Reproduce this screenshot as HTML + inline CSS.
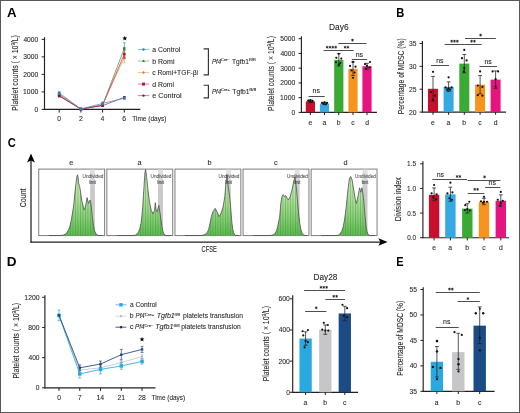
<!DOCTYPE html>
<html><head><meta charset="utf-8"><style>
html,body{margin:0;padding:0;background:#fff;}
#fig{position:relative;width:520px;height:413px;overflow:hidden;background:#fff;}
#fig svg{position:absolute;left:0;top:0;will-change:transform;}
text{font-family:'Liberation Sans', sans-serif;}
</style></head><body><div id="fig">
<svg width="520" height="413" viewBox="0 0 520 413" font-family="'Liberation Sans', sans-serif">
<rect x="0" y="0" width="520" height="413" fill="#fff"/>
<text x="6.97" y="17.10" fill="#000" stroke="#000" stroke-width="0" textLength="9.58" lengthAdjust="spacingAndGlyphs"><tspan font-size="13.0" font-weight="bold">A</tspan></text>
<text x="396.25" y="16.90" fill="#000" stroke="#000" stroke-width="0" textLength="8.05" lengthAdjust="spacingAndGlyphs"><tspan font-size="12.8" font-weight="bold">B</tspan></text>
<text x="7.64" y="147.00" fill="#000" stroke="#000" stroke-width="0" textLength="8.06" lengthAdjust="spacingAndGlyphs"><tspan font-size="12.6" font-weight="bold">C</tspan></text>
<text x="6.89" y="266.20" fill="#000" stroke="#000" stroke-width="0" textLength="9.77" lengthAdjust="spacingAndGlyphs"><tspan font-size="12.8" font-weight="bold">D</tspan></text>
<text x="396.26" y="266.20" fill="#000" stroke="#000" stroke-width="0" textLength="7.37" lengthAdjust="spacingAndGlyphs"><tspan font-size="12.8" font-weight="bold">E</tspan></text>
<line x1="44.50" y1="37.30" x2="44.50" y2="110.00" stroke="#231f20" stroke-width="1.15"/>
<line x1="44.00" y1="109.40" x2="140.30" y2="109.40" stroke="#231f20" stroke-width="1.15"/>
<line x1="41.70" y1="39.40" x2="44.50" y2="39.40" stroke="#231f20" stroke-width="1.0"/>
<text x="23.40" y="41.88" fill="#231f20" stroke="#231f20" stroke-width="0.08" textLength="14.86" lengthAdjust="spacingAndGlyphs"><tspan font-size="7.0">4000</tspan></text>
<line x1="41.70" y1="56.90" x2="44.50" y2="56.90" stroke="#231f20" stroke-width="1.0"/>
<text x="23.29" y="59.38" fill="#231f20" stroke="#231f20" stroke-width="0.08" textLength="14.97" lengthAdjust="spacingAndGlyphs"><tspan font-size="7.0">3000</tspan></text>
<line x1="41.70" y1="74.40" x2="44.50" y2="74.40" stroke="#231f20" stroke-width="1.0"/>
<text x="23.21" y="76.88" fill="#231f20" stroke="#231f20" stroke-width="0.08" textLength="15.05" lengthAdjust="spacingAndGlyphs"><tspan font-size="7.0">2000</tspan></text>
<line x1="41.70" y1="91.90" x2="44.50" y2="91.90" stroke="#231f20" stroke-width="1.0"/>
<text x="23.03" y="94.38" fill="#231f20" stroke="#231f20" stroke-width="0.08" textLength="15.24" lengthAdjust="spacingAndGlyphs"><tspan font-size="7.0">1000</tspan></text>
<line x1="41.70" y1="109.40" x2="44.50" y2="109.40" stroke="#231f20" stroke-width="1.0"/>
<text x="34.54" y="111.88" fill="#231f20" stroke="#231f20" stroke-width="0.08" textLength="3.72" lengthAdjust="spacingAndGlyphs"><tspan font-size="7.0">0</tspan></text>
<line x1="59.20" y1="109.40" x2="59.20" y2="112.50" stroke="#231f20" stroke-width="1.0"/>
<text x="57.34" y="121.38" fill="#231f20" stroke="#231f20" stroke-width="0.08" textLength="3.72" lengthAdjust="spacingAndGlyphs"><tspan font-size="7.0">0</tspan></text>
<line x1="80.90" y1="109.40" x2="80.90" y2="112.50" stroke="#231f20" stroke-width="1.0"/>
<text x="78.95" y="121.38" fill="#231f20" stroke="#231f20" stroke-width="0.08" textLength="3.91" lengthAdjust="spacingAndGlyphs"><tspan font-size="7.0">2</tspan></text>
<line x1="102.60" y1="109.40" x2="102.60" y2="112.50" stroke="#231f20" stroke-width="1.0"/>
<text x="100.85" y="121.38" fill="#231f20" stroke="#231f20" stroke-width="0.08" textLength="3.53" lengthAdjust="spacingAndGlyphs"><tspan font-size="7.0">4</tspan></text>
<line x1="124.30" y1="109.40" x2="124.30" y2="112.50" stroke="#231f20" stroke-width="1.0"/>
<text x="122.35" y="121.38" fill="#231f20" stroke="#231f20" stroke-width="0.08" textLength="3.86" lengthAdjust="spacingAndGlyphs"><tspan font-size="7.0">6</tspan></text>
<text x="132.25" y="121.30" fill="#231f20" stroke="#231f20" stroke-width="0.08" textLength="34.15" lengthAdjust="spacingAndGlyphs"><tspan font-size="7.8">Time (days)</tspan></text>
<text x="-110.67" y="18.00" transform="rotate(-90)" fill="#231f20" stroke="#231f20" stroke-width="0.08" textLength="75.49" lengthAdjust="spacingAndGlyphs"><tspan font-size="8.4">Platelet counts ( × 10</tspan><tspan font-size="5.208" dy="-3.19">9</tspan><tspan font-size="8.4" dy="3.19">/L)</tspan></text>
<polyline points="59.20,94.18 80.90,109.14 102.60,105.03 124.30,48.50" fill="none" stroke="#3c9a3c" stroke-width="0.75"/>
<rect x="57.90" y="92.88" width="2.60" height="2.60" fill="#2e8b2e"/>
<rect x="79.60" y="107.84" width="2.60" height="2.60" fill="#2e8b2e"/>
<rect x="101.30" y="103.73" width="2.60" height="2.60" fill="#2e8b2e"/>
<line x1="124.30" y1="42.72" x2="124.30" y2="54.27" stroke="#3c9a3c" stroke-width="0.7"/>
<line x1="123.00" y1="42.72" x2="125.60" y2="42.72" stroke="#3c9a3c" stroke-width="0.6"/>
<line x1="123.00" y1="54.27" x2="125.60" y2="54.27" stroke="#3c9a3c" stroke-width="0.6"/>
<rect x="123.00" y="47.20" width="2.60" height="2.60" fill="#2e8b2e"/>
<polyline points="59.20,94.88 80.90,109.14 102.60,104.68 124.30,57.60" fill="none" stroke="#e0a060" stroke-width="0.75"/>
<rect x="57.90" y="93.58" width="2.60" height="2.60" fill="#d07a20"/>
<rect x="79.60" y="107.84" width="2.60" height="2.60" fill="#d07a20"/>
<rect x="101.30" y="103.38" width="2.60" height="2.60" fill="#d07a20"/>
<line x1="124.30" y1="52.35" x2="124.30" y2="62.85" stroke="#e0a060" stroke-width="0.7"/>
<line x1="123.00" y1="52.35" x2="125.60" y2="52.35" stroke="#e0a060" stroke-width="0.6"/>
<line x1="123.00" y1="62.85" x2="125.60" y2="62.85" stroke="#e0a060" stroke-width="0.6"/>
<rect x="123.00" y="56.30" width="2.60" height="2.60" fill="#d07a20"/>
<polyline points="59.20,95.58 80.90,109.14 102.60,105.20 124.30,54.27" fill="none" stroke="#d0306a" stroke-width="0.75"/>
<rect x="57.90" y="94.28" width="2.60" height="2.60" fill="#c0105f"/>
<rect x="79.60" y="107.84" width="2.60" height="2.60" fill="#c0105f"/>
<rect x="101.30" y="103.90" width="2.60" height="2.60" fill="#c0105f"/>
<line x1="124.30" y1="50.42" x2="124.30" y2="58.12" stroke="#d0306a" stroke-width="0.7"/>
<line x1="123.00" y1="50.42" x2="125.60" y2="50.42" stroke="#d0306a" stroke-width="0.6"/>
<line x1="123.00" y1="58.12" x2="125.60" y2="58.12" stroke="#d0306a" stroke-width="0.6"/>
<rect x="123.00" y="52.98" width="2.60" height="2.60" fill="#c0105f"/>
<polyline points="59.20,96.10 80.90,108.96 102.60,105.64 124.30,97.33" fill="none" stroke="#8c3a6a" stroke-width="0.75"/>
<rect x="57.90" y="94.80" width="2.60" height="2.60" fill="#8b1030"/>
<rect x="79.60" y="107.66" width="2.60" height="2.60" fill="#8b1030"/>
<rect x="101.30" y="104.34" width="2.60" height="2.60" fill="#8b1030"/>
<rect x="123.00" y="96.03" width="2.60" height="2.60" fill="#8b1030"/>
<polyline points="59.20,92.95 80.90,108.96 102.60,103.45 124.30,98.20" fill="none" stroke="#5a8ab8" stroke-width="0.75"/>
<line x1="59.20" y1="91.73" x2="59.20" y2="94.18" stroke="#5a8ab8" stroke-width="0.7"/>
<line x1="57.90" y1="91.73" x2="60.50" y2="91.73" stroke="#5a8ab8" stroke-width="0.6"/>
<line x1="57.90" y1="94.18" x2="60.50" y2="94.18" stroke="#5a8ab8" stroke-width="0.6"/>
<rect x="57.90" y="91.65" width="2.60" height="2.60" fill="#2a7fb5"/>
<rect x="79.60" y="107.66" width="2.60" height="2.60" fill="#2a7fb5"/>
<line x1="102.60" y1="101.88" x2="102.60" y2="105.03" stroke="#5a8ab8" stroke-width="0.7"/>
<line x1="101.30" y1="101.88" x2="103.90" y2="101.88" stroke="#5a8ab8" stroke-width="0.6"/>
<line x1="101.30" y1="105.03" x2="103.90" y2="105.03" stroke="#5a8ab8" stroke-width="0.6"/>
<rect x="101.30" y="102.15" width="2.60" height="2.60" fill="#2a7fb5"/>
<line x1="124.30" y1="97.15" x2="124.30" y2="99.25" stroke="#5a8ab8" stroke-width="0.7"/>
<line x1="123.00" y1="97.15" x2="125.60" y2="97.15" stroke="#5a8ab8" stroke-width="0.6"/>
<line x1="123.00" y1="99.25" x2="125.60" y2="99.25" stroke="#5a8ab8" stroke-width="0.6"/>
<rect x="123.00" y="96.90" width="2.60" height="2.60" fill="#2a7fb5"/>
<polygon points="124.80,35.70 125.44,37.42 127.27,37.50 125.84,38.64 126.33,40.40 124.80,39.39 123.27,40.40 123.76,38.64 122.33,37.50 124.16,37.42" fill="#000"/>
<line x1="137.80" y1="49.50" x2="149.20" y2="49.50" stroke="#6fb8e2" stroke-width="0.8"/>
<circle cx="143.50" cy="49.50" r="1.2" fill="#2a7fb5"/>
<text x="152.31" y="52.10" fill="#231f20" stroke="#231f20" stroke-width="0.08" textLength="27.95" lengthAdjust="spacingAndGlyphs"><tspan font-size="7.2">a Control</tspan></text>
<line x1="137.80" y1="61.00" x2="149.20" y2="61.00" stroke="#7cc47a" stroke-width="0.8"/>
<polygon points="143.50,59.40 142.00,62.10 145.00,62.10" fill="#2e7d32"/>
<text x="152.15" y="63.60" fill="#231f20" stroke="#231f20" stroke-width="0.08" textLength="22.33" lengthAdjust="spacingAndGlyphs"><tspan font-size="7.2">b Romi</tspan></text>
<line x1="137.80" y1="72.50" x2="149.20" y2="72.50" stroke="#f6b67a" stroke-width="0.8"/>
<polygon points="143.50,70.90 145.10,72.50 143.50,74.10 141.90,72.50" fill="#c8864a"/>
<text x="152.32" y="75.10" fill="#231f20" stroke="#231f20" stroke-width="0.08" textLength="45.74" lengthAdjust="spacingAndGlyphs"><tspan font-size="7.2">c Romi+TGF-βi</tspan></text>
<line x1="137.80" y1="84.10" x2="149.20" y2="84.10" stroke="#ea5aa0" stroke-width="0.8"/>
<rect x="142.00" y="82.60" width="3.00" height="3.00" fill="#c0105f"/>
<text x="152.31" y="86.70" fill="#231f20" stroke="#231f20" stroke-width="0.08" textLength="21.75" lengthAdjust="spacingAndGlyphs"><tspan font-size="7.2">d Romi</tspan></text>
<line x1="137.80" y1="95.60" x2="149.20" y2="95.60" stroke="#d65a72" stroke-width="0.8"/>
<circle cx="143.50" cy="95.60" r="1.2" fill="#8b1030"/>
<text x="152.29" y="98.20" fill="#231f20" stroke="#231f20" stroke-width="0.08" textLength="29.39" lengthAdjust="spacingAndGlyphs"><tspan font-size="7.2">e Control</tspan></text>
<polyline points="203.60,48.90 208.40,48.90 208.40,74.80 203.60,74.80" fill="none" stroke="#333" stroke-width="1.15"/>
<polyline points="203.60,85.20 208.40,85.20 208.40,97.90 203.60,97.90" fill="none" stroke="#333" stroke-width="1.15"/>
<text x="211.91" y="63.60" fill="#231f20" stroke="#231f20" stroke-width="0.08" textLength="9.32" lengthAdjust="spacingAndGlyphs"><tspan font-size="7.2" font-style="italic">Pf4</tspan></text>
<text x="221.10" y="61.10" fill="#231f20" stroke="#231f20" stroke-width="0.08" textLength="8.69" lengthAdjust="spacingAndGlyphs"><tspan font-size="3.4">Cre−</tspan></text>
<text x="231.95" y="63.60" fill="#231f20" stroke="#231f20" stroke-width="0.08" textLength="16.97" lengthAdjust="spacingAndGlyphs"><tspan font-size="7.2">Tgfb1</tspan></text>
<text x="249.13" y="61.10" fill="#231f20" stroke="#231f20" stroke-width="0.08" textLength="6.51" lengthAdjust="spacingAndGlyphs"><tspan font-size="3.4">fl/fl</tspan></text>
<text x="211.91" y="93.60" fill="#231f20" stroke="#231f20" stroke-width="0.08" textLength="9.22" lengthAdjust="spacingAndGlyphs"><tspan font-size="7.2" font-style="italic">Pf4</tspan></text>
<text x="221.10" y="91.10" fill="#231f20" stroke="#231f20" stroke-width="0.08" textLength="8.70" lengthAdjust="spacingAndGlyphs"><tspan font-size="3.4">Cre+</tspan></text>
<text x="232.25" y="93.60" fill="#231f20" stroke="#231f20" stroke-width="0.08" textLength="17.28" lengthAdjust="spacingAndGlyphs"><tspan font-size="7.2">Tgfb1</tspan></text>
<text x="249.32" y="91.10" fill="#231f20" stroke="#231f20" stroke-width="0.08" textLength="6.94" lengthAdjust="spacingAndGlyphs"><tspan font-size="3.4">fl/fl</tspan></text>
<text x="329.01" y="30.30" fill="#231f20" stroke="#231f20" stroke-width="0.08" textLength="19.56" lengthAdjust="spacingAndGlyphs"><tspan font-size="8.8">Day6</tspan></text>
<line x1="301.40" y1="36.20" x2="301.40" y2="112.90" stroke="#231f20" stroke-width="1.15"/>
<line x1="300.90" y1="112.40" x2="376.90" y2="112.40" stroke="#231f20" stroke-width="1.15"/>
<line x1="298.60" y1="38.70" x2="301.40" y2="38.70" stroke="#231f20" stroke-width="1.0"/>
<text x="280.28" y="41.18" fill="#231f20" stroke="#231f20" stroke-width="0.08" textLength="14.98" lengthAdjust="spacingAndGlyphs"><tspan font-size="7.0">5000</tspan></text>
<line x1="298.60" y1="53.44" x2="301.40" y2="53.44" stroke="#231f20" stroke-width="1.0"/>
<text x="280.40" y="55.92" fill="#231f20" stroke="#231f20" stroke-width="0.08" textLength="14.86" lengthAdjust="spacingAndGlyphs"><tspan font-size="7.0">4000</tspan></text>
<line x1="298.60" y1="68.18" x2="301.40" y2="68.18" stroke="#231f20" stroke-width="1.0"/>
<text x="280.29" y="70.66" fill="#231f20" stroke="#231f20" stroke-width="0.08" textLength="14.97" lengthAdjust="spacingAndGlyphs"><tspan font-size="7.0">3000</tspan></text>
<line x1="298.60" y1="82.92" x2="301.40" y2="82.92" stroke="#231f20" stroke-width="1.0"/>
<text x="280.21" y="85.40" fill="#231f20" stroke="#231f20" stroke-width="0.08" textLength="15.05" lengthAdjust="spacingAndGlyphs"><tspan font-size="7.0">2000</tspan></text>
<line x1="298.60" y1="97.66" x2="301.40" y2="97.66" stroke="#231f20" stroke-width="1.0"/>
<text x="280.03" y="100.14" fill="#231f20" stroke="#231f20" stroke-width="0.08" textLength="15.24" lengthAdjust="spacingAndGlyphs"><tspan font-size="7.0">1000</tspan></text>
<line x1="298.60" y1="112.40" x2="301.40" y2="112.40" stroke="#231f20" stroke-width="1.0"/>
<text x="291.54" y="114.88" fill="#231f20" stroke="#231f20" stroke-width="0.08" textLength="3.72" lengthAdjust="spacingAndGlyphs"><tspan font-size="7.0">0</tspan></text>
<rect x="305.80" y="101.34" width="9.20" height="11.06" fill="#c8102e"/>
<line x1="310.40" y1="112.40" x2="310.40" y2="115.10" stroke="#231f20" stroke-width="1.0"/>
<line x1="310.40" y1="100.17" x2="310.40" y2="102.52" stroke="#231f20" stroke-width="0.75"/>
<line x1="308.50" y1="100.17" x2="312.30" y2="100.17" stroke="#231f20" stroke-width="0.75"/>
<line x1="308.50" y1="102.52" x2="312.30" y2="102.52" stroke="#231f20" stroke-width="0.75"/>
<circle cx="308.20" cy="100.61" r="1.1" fill="#111"/>
<circle cx="310.40" cy="100.17" r="1.1" fill="#111"/>
<circle cx="312.60" cy="100.76" r="1.1" fill="#111"/>
<circle cx="309.40" cy="101.49" r="1.1" fill="#111"/>
<circle cx="311.90" cy="102.08" r="1.1" fill="#111"/>
<text x="308.52" y="124.70" fill="#231f20" stroke="#231f20" stroke-width="0.08" textLength="3.78" lengthAdjust="spacingAndGlyphs"><tspan font-size="6.8">e</tspan></text>
<rect x="319.90" y="103.56" width="9.20" height="8.84" fill="#35a9e1"/>
<line x1="324.50" y1="112.40" x2="324.50" y2="115.10" stroke="#231f20" stroke-width="1.0"/>
<line x1="324.50" y1="102.23" x2="324.50" y2="104.74" stroke="#231f20" stroke-width="0.75"/>
<line x1="322.60" y1="102.23" x2="326.40" y2="102.23" stroke="#231f20" stroke-width="0.75"/>
<line x1="322.60" y1="104.74" x2="326.40" y2="104.74" stroke="#231f20" stroke-width="0.75"/>
<circle cx="322.00" cy="102.82" r="1.1" fill="#111"/>
<circle cx="324.50" cy="102.23" r="1.1" fill="#111"/>
<circle cx="327.00" cy="102.97" r="1.1" fill="#111"/>
<circle cx="323.50" cy="103.85" r="1.1" fill="#111"/>
<circle cx="326.00" cy="104.15" r="1.1" fill="#111"/>
<text x="322.46" y="124.70" fill="#231f20" stroke="#231f20" stroke-width="0.08" textLength="3.78" lengthAdjust="spacingAndGlyphs"><tspan font-size="6.8">a</tspan></text>
<rect x="334.20" y="59.93" width="9.20" height="52.47" fill="#3aaa35"/>
<line x1="338.80" y1="112.40" x2="338.80" y2="115.10" stroke="#231f20" stroke-width="1.0"/>
<line x1="338.80" y1="53.59" x2="338.80" y2="65.97" stroke="#231f20" stroke-width="0.75"/>
<line x1="336.90" y1="53.59" x2="340.70" y2="53.59" stroke="#231f20" stroke-width="0.75"/>
<line x1="336.90" y1="65.97" x2="340.70" y2="65.97" stroke="#231f20" stroke-width="0.75"/>
<circle cx="338.80" cy="53.73" r="1.1" fill="#111"/>
<circle cx="336.30" cy="57.86" r="1.1" fill="#111"/>
<circle cx="341.30" cy="58.60" r="1.1" fill="#111"/>
<circle cx="336.00" cy="62.28" r="1.1" fill="#111"/>
<circle cx="340.30" cy="63.02" r="1.1" fill="#111"/>
<circle cx="338.80" cy="64.50" r="1.1" fill="#111"/>
<text x="336.83" y="124.70" fill="#231f20" stroke="#231f20" stroke-width="0.08" textLength="3.78" lengthAdjust="spacingAndGlyphs"><tspan font-size="6.8">b</tspan></text>
<rect x="348.40" y="68.77" width="9.20" height="43.63" fill="#f7941d"/>
<line x1="353.00" y1="112.40" x2="353.00" y2="115.10" stroke="#231f20" stroke-width="1.0"/>
<line x1="353.00" y1="61.99" x2="353.00" y2="75.55" stroke="#231f20" stroke-width="0.75"/>
<line x1="351.10" y1="61.99" x2="354.90" y2="61.99" stroke="#231f20" stroke-width="0.75"/>
<line x1="351.10" y1="75.55" x2="354.90" y2="75.55" stroke="#231f20" stroke-width="0.75"/>
<circle cx="353.00" cy="61.84" r="1.1" fill="#111"/>
<circle cx="350.00" cy="65.97" r="1.1" fill="#111"/>
<circle cx="355.50" cy="66.71" r="1.1" fill="#111"/>
<circle cx="351.50" cy="70.39" r="1.1" fill="#111"/>
<circle cx="354.50" cy="72.60" r="1.1" fill="#111"/>
<circle cx="353.00" cy="77.76" r="1.1" fill="#111"/>
<text x="351.25" y="124.70" fill="#231f20" stroke="#231f20" stroke-width="0.08" textLength="3.40" lengthAdjust="spacingAndGlyphs"><tspan font-size="6.8">c</tspan></text>
<rect x="362.40" y="66.26" width="9.20" height="46.14" fill="#e5147f"/>
<line x1="367.00" y1="112.40" x2="367.00" y2="115.10" stroke="#231f20" stroke-width="1.0"/>
<line x1="367.00" y1="63.32" x2="367.00" y2="69.21" stroke="#231f20" stroke-width="0.75"/>
<line x1="365.10" y1="63.32" x2="368.90" y2="63.32" stroke="#231f20" stroke-width="0.75"/>
<line x1="365.10" y1="69.21" x2="368.90" y2="69.21" stroke="#231f20" stroke-width="0.75"/>
<circle cx="370.00" cy="61.99" r="1.1" fill="#111"/>
<circle cx="365.00" cy="64.05" r="1.1" fill="#111"/>
<circle cx="367.00" cy="65.97" r="1.1" fill="#111"/>
<circle cx="369.50" cy="67.44" r="1.1" fill="#111"/>
<circle cx="366.00" cy="68.92" r="1.1" fill="#111"/>
<text x="365.19" y="124.70" fill="#231f20" stroke="#231f20" stroke-width="0.08" textLength="3.78" lengthAdjust="spacingAndGlyphs"><tspan font-size="6.8">d</tspan></text>
<text x="-110.96" y="274.30" transform="rotate(-90)" fill="#231f20" stroke="#231f20" stroke-width="0.08" textLength="74.89" lengthAdjust="spacingAndGlyphs"><tspan font-size="8.4">Platelet counts ( × 10</tspan><tspan font-size="5.208" dy="-3.19">9</tspan><tspan font-size="8.4" dy="3.19">/L)</tspan></text>
<line x1="308.60" y1="96.50" x2="324.70" y2="96.50" stroke="#231f20" stroke-width="0.8"/>
<text x="312.64" y="93.00" fill="#231f20" stroke="#231f20" stroke-width="0.08" textLength="7.31" lengthAdjust="spacingAndGlyphs"><tspan font-size="6.4">ns</tspan></text>
<line x1="323.60" y1="50.50" x2="353.70" y2="50.50" stroke="#231f20" stroke-width="0.8"/>
<path d="M327.12,46.20L327.12,48.20M326.26,46.70L327.99,47.70M327.99,46.70L326.26,47.70" stroke="#1a1a1a" stroke-width="0.75" stroke-linecap="round"/>
<path d="M329.98,46.20L329.98,48.20M329.11,46.70L330.84,47.70M330.84,46.70L329.11,47.70" stroke="#1a1a1a" stroke-width="0.75" stroke-linecap="round"/>
<path d="M332.82,46.20L332.82,48.20M331.96,46.70L333.69,47.70M333.69,46.70L331.96,47.70" stroke="#1a1a1a" stroke-width="0.75" stroke-linecap="round"/>
<path d="M335.68,46.20L335.68,48.20M334.81,46.70L336.54,47.70M336.54,46.70L334.81,47.70" stroke="#1a1a1a" stroke-width="0.75" stroke-linecap="round"/>
<path d="M345.07,46.20L345.07,48.20M344.21,46.70L345.94,47.70M345.94,46.70L344.21,47.70" stroke="#1a1a1a" stroke-width="0.75" stroke-linecap="round"/>
<path d="M347.93,46.20L347.93,48.20M347.06,46.70L348.79,47.70M348.79,46.70L347.06,47.70" stroke="#1a1a1a" stroke-width="0.75" stroke-linecap="round"/>
<line x1="338.40" y1="43.50" x2="366.60" y2="43.50" stroke="#231f20" stroke-width="0.8"/>
<path d="M352.50,39.10L352.50,41.10M351.63,39.60L353.37,40.60M353.37,39.60L351.63,40.60" stroke="#1a1a1a" stroke-width="0.75" stroke-linecap="round"/>
<line x1="351.80" y1="59.50" x2="367.20" y2="59.50" stroke="#231f20" stroke-width="0.8"/>
<text x="355.74" y="56.90" fill="#231f20" stroke="#231f20" stroke-width="0.08" textLength="7.31" lengthAdjust="spacingAndGlyphs"><tspan font-size="6.4">ns</tspan></text>
<line x1="422.40" y1="41.00" x2="422.40" y2="112.60" stroke="#231f20" stroke-width="1.15"/>
<line x1="421.90" y1="112.10" x2="506.00" y2="112.10" stroke="#231f20" stroke-width="1.15"/>
<line x1="419.60" y1="43.50" x2="422.40" y2="43.50" stroke="#231f20" stroke-width="1.0"/>
<text x="409.09" y="45.98" fill="#231f20" stroke="#231f20" stroke-width="0.08" textLength="7.49" lengthAdjust="spacingAndGlyphs"><tspan font-size="7.0">35</tspan></text>
<line x1="419.60" y1="66.37" x2="422.40" y2="66.37" stroke="#231f20" stroke-width="1.0"/>
<text x="409.09" y="68.85" fill="#231f20" stroke="#231f20" stroke-width="0.08" textLength="7.47" lengthAdjust="spacingAndGlyphs"><tspan font-size="7.0">30</tspan></text>
<line x1="419.60" y1="89.23" x2="422.40" y2="89.23" stroke="#231f20" stroke-width="1.0"/>
<text x="409.01" y="91.71" fill="#231f20" stroke="#231f20" stroke-width="0.08" textLength="7.58" lengthAdjust="spacingAndGlyphs"><tspan font-size="7.0">25</tspan></text>
<line x1="419.60" y1="112.10" x2="422.40" y2="112.10" stroke="#231f20" stroke-width="1.0"/>
<text x="409.01" y="114.58" fill="#231f20" stroke="#231f20" stroke-width="0.08" textLength="7.56" lengthAdjust="spacingAndGlyphs"><tspan font-size="7.0">20</tspan></text>
<rect x="428.00" y="88.78" width="10.00" height="23.32" fill="#c8102e"/>
<line x1="433.00" y1="112.10" x2="433.00" y2="114.80" stroke="#231f20" stroke-width="1.0"/>
<line x1="433.00" y1="76.43" x2="433.00" y2="101.12" stroke="#231f20" stroke-width="0.75"/>
<line x1="431.10" y1="76.43" x2="434.90" y2="76.43" stroke="#231f20" stroke-width="0.75"/>
<line x1="431.10" y1="101.12" x2="434.90" y2="101.12" stroke="#231f20" stroke-width="0.75"/>
<circle cx="433.00" cy="71.86" r="1.1" fill="#111"/>
<circle cx="431.00" cy="91.98" r="1.1" fill="#111"/>
<circle cx="435.00" cy="95.64" r="1.1" fill="#111"/>
<circle cx="433.00" cy="99.75" r="1.1" fill="#111"/>
<text x="431.12" y="124.90" fill="#231f20" stroke="#231f20" stroke-width="0.08" textLength="3.78" lengthAdjust="spacingAndGlyphs"><tspan font-size="6.8">e</tspan></text>
<rect x="443.60" y="86.95" width="10.00" height="25.15" fill="#35a9e1"/>
<line x1="448.60" y1="112.10" x2="448.60" y2="114.80" stroke="#231f20" stroke-width="1.0"/>
<line x1="448.60" y1="81.92" x2="448.60" y2="91.52" stroke="#231f20" stroke-width="0.75"/>
<line x1="446.70" y1="81.92" x2="450.50" y2="81.92" stroke="#231f20" stroke-width="0.75"/>
<line x1="446.70" y1="91.52" x2="450.50" y2="91.52" stroke="#231f20" stroke-width="0.75"/>
<circle cx="448.60" cy="77.35" r="1.1" fill="#111"/>
<circle cx="445.60" cy="87.41" r="1.1" fill="#111"/>
<circle cx="448.60" cy="88.32" r="1.1" fill="#111"/>
<circle cx="451.60" cy="87.41" r="1.1" fill="#111"/>
<circle cx="447.10" cy="89.69" r="1.1" fill="#111"/>
<circle cx="450.10" cy="89.69" r="1.1" fill="#111"/>
<text x="446.56" y="124.90" fill="#231f20" stroke="#231f20" stroke-width="0.08" textLength="3.78" lengthAdjust="spacingAndGlyphs"><tspan font-size="6.8">a</tspan></text>
<rect x="459.30" y="63.63" width="10.00" height="48.47" fill="#3aaa35"/>
<line x1="464.30" y1="112.10" x2="464.30" y2="114.80" stroke="#231f20" stroke-width="1.0"/>
<line x1="464.30" y1="54.48" x2="464.30" y2="72.77" stroke="#231f20" stroke-width="0.75"/>
<line x1="462.40" y1="54.48" x2="466.20" y2="54.48" stroke="#231f20" stroke-width="0.75"/>
<line x1="462.40" y1="72.77" x2="466.20" y2="72.77" stroke="#231f20" stroke-width="0.75"/>
<circle cx="464.30" cy="49.91" r="1.1" fill="#111"/>
<circle cx="462.00" cy="58.14" r="1.1" fill="#111"/>
<circle cx="466.60" cy="60.43" r="1.1" fill="#111"/>
<circle cx="464.30" cy="68.20" r="1.1" fill="#111"/>
<circle cx="463.80" cy="71.40" r="1.1" fill="#111"/>
<text x="462.33" y="124.90" fill="#231f20" stroke="#231f20" stroke-width="0.08" textLength="3.78" lengthAdjust="spacingAndGlyphs"><tspan font-size="6.8">b</tspan></text>
<rect x="475.10" y="84.66" width="10.00" height="27.44" fill="#f7941d"/>
<line x1="480.10" y1="112.10" x2="480.10" y2="114.80" stroke="#231f20" stroke-width="1.0"/>
<line x1="480.10" y1="75.52" x2="480.10" y2="93.81" stroke="#231f20" stroke-width="0.75"/>
<line x1="478.20" y1="75.52" x2="482.00" y2="75.52" stroke="#231f20" stroke-width="0.75"/>
<line x1="478.20" y1="93.81" x2="482.00" y2="93.81" stroke="#231f20" stroke-width="0.75"/>
<circle cx="480.10" cy="71.40" r="1.1" fill="#111"/>
<circle cx="477.80" cy="85.58" r="1.1" fill="#111"/>
<circle cx="482.40" cy="86.95" r="1.1" fill="#111"/>
<circle cx="477.80" cy="95.18" r="1.1" fill="#111"/>
<circle cx="482.40" cy="95.64" r="1.1" fill="#111"/>
<text x="478.35" y="124.90" fill="#231f20" stroke="#231f20" stroke-width="0.08" textLength="3.40" lengthAdjust="spacingAndGlyphs"><tspan font-size="6.8">c</tspan></text>
<rect x="490.60" y="79.63" width="10.00" height="32.47" fill="#e5147f"/>
<line x1="495.60" y1="112.10" x2="495.60" y2="114.80" stroke="#231f20" stroke-width="1.0"/>
<line x1="495.60" y1="70.94" x2="495.60" y2="88.32" stroke="#231f20" stroke-width="0.75"/>
<line x1="493.70" y1="70.94" x2="497.50" y2="70.94" stroke="#231f20" stroke-width="0.75"/>
<line x1="493.70" y1="88.32" x2="497.50" y2="88.32" stroke="#231f20" stroke-width="0.75"/>
<circle cx="492.60" cy="71.40" r="1.1" fill="#111"/>
<circle cx="498.10" cy="71.40" r="1.1" fill="#111"/>
<circle cx="495.60" cy="79.17" r="1.1" fill="#111"/>
<circle cx="495.60" cy="86.49" r="1.1" fill="#111"/>
<text x="493.79" y="124.90" fill="#231f20" stroke="#231f20" stroke-width="0.08" textLength="3.78" lengthAdjust="spacingAndGlyphs"><tspan font-size="6.8">d</tspan></text>
<text x="-114.15" y="403.60" transform="rotate(-90)" fill="#231f20" stroke="#231f20" stroke-width="0.08" textLength="75.97" lengthAdjust="spacingAndGlyphs"><tspan font-size="9.0">Percentage of MDSC (%)</tspan></text>
<line x1="431.00" y1="65.50" x2="449.00" y2="65.50" stroke="#231f20" stroke-width="0.8"/>
<text x="436.24" y="62.70" fill="#231f20" stroke="#231f20" stroke-width="0.08" textLength="7.31" lengthAdjust="spacingAndGlyphs"><tspan font-size="6.4">ns</tspan></text>
<line x1="444.70" y1="44.50" x2="464.30" y2="44.50" stroke="#231f20" stroke-width="0.8"/>
<path d="M451.65,40.20L451.65,42.20M450.78,40.70L452.52,41.70M452.52,40.70L450.78,41.70" stroke="#1a1a1a" stroke-width="0.75" stroke-linecap="round"/>
<path d="M454.50,40.20L454.50,42.20M453.63,40.70L455.37,41.70M455.37,40.70L453.63,41.70" stroke="#1a1a1a" stroke-width="0.75" stroke-linecap="round"/>
<path d="M457.35,40.20L457.35,42.20M456.48,40.70L458.22,41.70M458.22,40.70L456.48,41.70" stroke="#1a1a1a" stroke-width="0.75" stroke-linecap="round"/>
<line x1="464.30" y1="44.50" x2="481.70" y2="44.50" stroke="#231f20" stroke-width="0.8"/>
<path d="M471.57,40.20L471.57,42.20M470.71,40.70L472.44,41.70M472.44,40.70L470.71,41.70" stroke="#1a1a1a" stroke-width="0.75" stroke-linecap="round"/>
<path d="M474.43,40.20L474.43,42.20M473.56,40.70L475.29,41.70M475.29,40.70L473.56,41.70" stroke="#1a1a1a" stroke-width="0.75" stroke-linecap="round"/>
<line x1="465.00" y1="38.50" x2="495.90" y2="38.50" stroke="#231f20" stroke-width="0.8"/>
<path d="M480.60,34.10L480.60,36.10M479.73,34.60L481.47,35.60M481.47,34.60L479.73,35.60" stroke="#1a1a1a" stroke-width="0.75" stroke-linecap="round"/>
<line x1="479.50" y1="66.50" x2="497.00" y2="66.50" stroke="#231f20" stroke-width="0.8"/>
<text x="484.44" y="63.50" fill="#231f20" stroke="#231f20" stroke-width="0.08" textLength="7.31" lengthAdjust="spacingAndGlyphs"><tspan font-size="6.4">ns</tspan></text>
<line x1="31.00" y1="242.60" x2="31.00" y2="159.00" stroke="#231f20" stroke-width="1.25"/>
<polygon points="31.00,153.60 27.10,162.50 31.00,160.50 34.90,162.50" fill="#000"/>
<line x1="30.40" y1="242.00" x2="381.00" y2="242.00" stroke="#231f20" stroke-width="1.25"/>
<polygon points="387.60,242.00 378.30,238.20 380.40,242.00 378.30,245.80" fill="#000"/>
<text x="-207.26" y="25.60" transform="rotate(-90)" fill="#231f20" stroke="#231f20" stroke-width="0.08" textLength="18.81" lengthAdjust="spacingAndGlyphs"><tspan font-size="9.0">Count</tspan></text>
<text x="201.61" y="252.40" fill="#231f20" stroke="#231f20" stroke-width="0.08" textLength="15.34" lengthAdjust="spacingAndGlyphs"><tspan font-size="8.8">CFSE</tspan></text>
<defs><linearGradient id="hg" x1="0" y1="170" x2="0" y2="236" gradientUnits="userSpaceOnUse"><stop offset="0" stop-color="#c9e9ba"/><stop offset="0.4" stop-color="#a8da93"/><stop offset="0.72" stop-color="#75c462"/><stop offset="1" stop-color="#43a936"/></linearGradient><linearGradient id="bandg" x1="0" y1="169.6" x2="0" y2="235" gradientUnits="userSpaceOnUse"><stop offset="0" stop-color="#e2e2e2"/><stop offset="0.17" stop-color="#d4d4d4"/><stop offset="0.3" stop-color="#c9c9c9"/><stop offset="1" stop-color="#c9c9c9"/></linearGradient><pattern id="st" x="0" y="0" width="2.5" height="10" patternUnits="userSpaceOnUse"><rect x="0" y="0" width="0.8" height="10" fill="#3f9f33" fill-opacity="0.45"/><rect x="1.4" y="0" width="0.6" height="10" fill="#ffffff" fill-opacity="0.3"/></pattern></defs>
<rect x="38.75" y="169.1" width="65.9" height="66.5" fill="#fff" stroke="#767676" stroke-width="0.95"/>
<rect x="90.10" y="169.60" width="4.80" height="65.60" fill="url(#bandg)"/>
<path d="M60.00,235.50 L63.00,235.30 L66.00,233.80 L68.20,230.60 L70.00,226.00 L71.50,218.80 L73.00,210.00 L74.10,201.80 L75.00,192.00 L75.80,184.90 L76.80,177.00 L77.50,174.80 L78.20,178.00 L78.60,183.20 L79.70,186.60 L80.70,193.00 L81.70,200.10 L83.00,206.00 L84.20,210.00 L85.10,207.50 L85.90,204.40 L87.10,197.60 L88.50,203.50 L90.10,200.10 L91.00,204.00 L91.80,212.00 L92.60,219.00 L93.50,225.50 L94.50,230.50 L95.60,233.10 L97.00,234.80 L98.60,235.50 Z" fill="url(#hg)" fill-opacity="0.95"/>
<path d="M60.00,235.50 L63.00,235.30 L66.00,233.80 L68.20,230.60 L70.00,226.00 L71.50,218.80 L73.00,210.00 L74.10,201.80 L75.00,192.00 L75.80,184.90 L76.80,177.00 L77.50,174.80 L78.20,178.00 L78.60,183.20 L79.70,186.60 L80.70,193.00 L81.70,200.10 L83.00,206.00 L84.20,210.00 L85.10,207.50 L85.90,204.40 L87.10,197.60 L88.50,203.50 L90.10,200.10 L91.00,204.00 L91.80,212.00 L92.60,219.00 L93.50,225.50 L94.50,230.50 L95.60,233.10 L97.00,234.80 L98.60,235.50 Z" fill="url(#st)"/>
<path d="M48.75,235.5 L60.00,235.50 L63.00,235.30 L66.00,233.80 L68.20,230.60 L70.00,226.00 L71.50,218.80 L73.00,210.00 L74.10,201.80 L75.00,192.00 L75.80,184.90 L76.80,177.00 L77.50,174.80 L78.20,178.00 L78.60,183.20 L79.70,186.60 L80.70,193.00 L81.70,200.10 L83.00,206.00 L84.20,210.00 L85.10,207.50 L85.90,204.40 L87.10,197.60 L88.50,203.50 L90.10,200.10 L91.00,204.00 L91.80,212.00 L92.60,219.00 L93.50,225.50 L94.50,230.50 L95.60,233.10 L97.00,234.80 L98.60,235.50 L102.75,235.5" fill="none" stroke="#505050" stroke-width="0.8" stroke-linejoin="round"/>
<text x="82.54" y="178.30" fill="#555" stroke="#555" stroke-width="0.08" textLength="20.86" lengthAdjust="spacingAndGlyphs"><tspan font-size="4.6">Undivided</tspan></text>
<text x="89.25" y="184.00" fill="#333" stroke="#333" stroke-width="0.08" textLength="6.47" lengthAdjust="spacingAndGlyphs"><tspan font-size="4.9">limit</tspan></text>
<text x="69.28" y="164.80" fill="#231f20" stroke="#231f20" stroke-width="0.08" textLength="4.06" lengthAdjust="spacingAndGlyphs"><tspan font-size="7.3">e</tspan></text>
<rect x="106.85" y="169.1" width="65.9" height="66.5" fill="#fff" stroke="#767676" stroke-width="0.95"/>
<rect x="158.00" y="169.60" width="5.00" height="65.60" fill="url(#bandg)"/>
<path d="M132.00,235.50 L135.20,235.30 L137.00,234.00 L138.50,232.20 L139.80,228.50 L141.00,223.60 L142.00,215.00 L142.80,206.20 L143.40,196.00 L144.00,187.00 L144.90,173.00 L145.60,169.50 L146.60,176.50 L147.80,188.70 L148.70,196.00 L149.60,202.70 L151.30,210.50 L153.10,214.00 L154.50,210.50 L155.30,202.70 L156.00,209.70 L157.10,211.70 L158.80,205.30 L160.00,213.10 L160.90,219.00 L161.80,225.40 L162.60,230.00 L163.50,233.20 L164.80,234.80 L166.20,235.50 Z" fill="url(#hg)" fill-opacity="0.95"/>
<path d="M132.00,235.50 L135.20,235.30 L137.00,234.00 L138.50,232.20 L139.80,228.50 L141.00,223.60 L142.00,215.00 L142.80,206.20 L143.40,196.00 L144.00,187.00 L144.90,173.00 L145.60,169.50 L146.60,176.50 L147.80,188.70 L148.70,196.00 L149.60,202.70 L151.30,210.50 L153.10,214.00 L154.50,210.50 L155.30,202.70 L156.00,209.70 L157.10,211.70 L158.80,205.30 L160.00,213.10 L160.90,219.00 L161.80,225.40 L162.60,230.00 L163.50,233.20 L164.80,234.80 L166.20,235.50 Z" fill="url(#st)"/>
<path d="M116.85,235.5 L132.00,235.50 L135.20,235.30 L137.00,234.00 L138.50,232.20 L139.80,228.50 L141.00,223.60 L142.00,215.00 L142.80,206.20 L143.40,196.00 L144.00,187.00 L144.90,173.00 L145.60,169.50 L146.60,176.50 L147.80,188.70 L148.70,196.00 L149.60,202.70 L151.30,210.50 L153.10,214.00 L154.50,210.50 L155.30,202.70 L156.00,209.70 L157.10,211.70 L158.80,205.30 L160.00,213.10 L160.90,219.00 L161.80,225.40 L162.60,230.00 L163.50,233.20 L164.80,234.80 L166.20,235.50 L170.85,235.5" fill="none" stroke="#505050" stroke-width="0.8" stroke-linejoin="round"/>
<text x="150.54" y="178.30" fill="#555" stroke="#555" stroke-width="0.08" textLength="20.86" lengthAdjust="spacingAndGlyphs"><tspan font-size="4.6">Undivided</tspan></text>
<text x="157.25" y="184.00" fill="#333" stroke="#333" stroke-width="0.08" textLength="6.47" lengthAdjust="spacingAndGlyphs"><tspan font-size="4.9">limit</tspan></text>
<text x="137.41" y="164.80" fill="#231f20" stroke="#231f20" stroke-width="0.08" textLength="4.06" lengthAdjust="spacingAndGlyphs"><tspan font-size="7.3">a</tspan></text>
<rect x="174.95" y="169.1" width="65.9" height="66.5" fill="#fff" stroke="#767676" stroke-width="0.95"/>
<rect x="226.20" y="169.60" width="4.60" height="65.60" fill="url(#bandg)"/>
<path d="M200.00,235.50 L203.00,235.30 L205.30,234.30 L207.30,232.40 L208.60,229.50 L209.60,225.40 L211.40,216.60 L213.10,211.40 L215.20,208.40 L217.30,212.30 L219.00,216.60 L220.80,214.00 L223.10,207.00 L224.80,196.60 L226.00,182.50 L227.10,174.80 L228.10,186.00 L229.20,193.10 L230.60,206.20 L231.80,221.90 L232.60,228.50 L233.50,232.40 L234.60,234.60 L235.80,235.50 Z" fill="url(#hg)" fill-opacity="0.95"/>
<path d="M200.00,235.50 L203.00,235.30 L205.30,234.30 L207.30,232.40 L208.60,229.50 L209.60,225.40 L211.40,216.60 L213.10,211.40 L215.20,208.40 L217.30,212.30 L219.00,216.60 L220.80,214.00 L223.10,207.00 L224.80,196.60 L226.00,182.50 L227.10,174.80 L228.10,186.00 L229.20,193.10 L230.60,206.20 L231.80,221.90 L232.60,228.50 L233.50,232.40 L234.60,234.60 L235.80,235.50 Z" fill="url(#st)"/>
<path d="M184.95,235.5 L200.00,235.50 L203.00,235.30 L205.30,234.30 L207.30,232.40 L208.60,229.50 L209.60,225.40 L211.40,216.60 L213.10,211.40 L215.20,208.40 L217.30,212.30 L219.00,216.60 L220.80,214.00 L223.10,207.00 L224.80,196.60 L226.00,182.50 L227.10,174.80 L228.10,186.00 L229.20,193.10 L230.60,206.20 L231.80,221.90 L232.60,228.50 L233.50,232.40 L234.60,234.60 L235.80,235.50 L238.95,235.5" fill="none" stroke="#505050" stroke-width="0.8" stroke-linejoin="round"/>
<text x="218.54" y="178.30" fill="#555" stroke="#555" stroke-width="0.08" textLength="20.86" lengthAdjust="spacingAndGlyphs"><tspan font-size="4.6">Undivided</tspan></text>
<text x="225.25" y="184.00" fill="#333" stroke="#333" stroke-width="0.08" textLength="6.47" lengthAdjust="spacingAndGlyphs"><tspan font-size="4.9">limit</tspan></text>
<text x="207.39" y="164.80" fill="#231f20" stroke="#231f20" stroke-width="0.08" textLength="4.06" lengthAdjust="spacingAndGlyphs"><tspan font-size="7.3">b</tspan></text>
<rect x="243.05" y="169.1" width="65.9" height="66.5" fill="#fff" stroke="#767676" stroke-width="0.95"/>
<rect x="294.60" y="169.60" width="5.00" height="65.60" fill="url(#bandg)"/>
<path d="M269.00,235.50 L271.90,235.30 L273.80,234.50 L275.30,233.20 L276.50,230.50 L277.60,227.10 L279.70,216.60 L280.90,202.70 L282.00,196.60 L283.20,194.50 L284.40,196.60 L285.80,195.70 L287.20,198.30 L288.40,200.00 L290.20,196.60 L291.90,190.40 L293.80,181.00 L295.00,176.50 L296.20,186.00 L297.70,202.70 L298.90,216.60 L299.80,223.50 L300.70,228.90 L301.80,232.50 L302.80,234.40 L305.00,235.50 Z" fill="url(#hg)" fill-opacity="0.95"/>
<path d="M269.00,235.50 L271.90,235.30 L273.80,234.50 L275.30,233.20 L276.50,230.50 L277.60,227.10 L279.70,216.60 L280.90,202.70 L282.00,196.60 L283.20,194.50 L284.40,196.60 L285.80,195.70 L287.20,198.30 L288.40,200.00 L290.20,196.60 L291.90,190.40 L293.80,181.00 L295.00,176.50 L296.20,186.00 L297.70,202.70 L298.90,216.60 L299.80,223.50 L300.70,228.90 L301.80,232.50 L302.80,234.40 L305.00,235.50 Z" fill="url(#st)"/>
<path d="M253.05,235.5 L269.00,235.50 L271.90,235.30 L273.80,234.50 L275.30,233.20 L276.50,230.50 L277.60,227.10 L279.70,216.60 L280.90,202.70 L282.00,196.60 L283.20,194.50 L284.40,196.60 L285.80,195.70 L287.20,198.30 L288.40,200.00 L290.20,196.60 L291.90,190.40 L293.80,181.00 L295.00,176.50 L296.20,186.00 L297.70,202.70 L298.90,216.60 L299.80,223.50 L300.70,228.90 L301.80,232.50 L302.80,234.40 L305.00,235.50 L307.05,235.5" fill="none" stroke="#505050" stroke-width="0.8" stroke-linejoin="round"/>
<text x="287.14" y="178.30" fill="#555" stroke="#555" stroke-width="0.08" textLength="20.86" lengthAdjust="spacingAndGlyphs"><tspan font-size="4.6">Undivided</tspan></text>
<text x="293.85" y="184.00" fill="#333" stroke="#333" stroke-width="0.08" textLength="6.47" lengthAdjust="spacingAndGlyphs"><tspan font-size="4.9">limit</tspan></text>
<text x="273.92" y="164.80" fill="#231f20" stroke="#231f20" stroke-width="0.08" textLength="3.65" lengthAdjust="spacingAndGlyphs"><tspan font-size="7.3">c</tspan></text>
<rect x="311.15" y="169.1" width="65.9" height="66.5" fill="#fff" stroke="#767676" stroke-width="0.95"/>
<rect x="362.50" y="169.60" width="5.00" height="65.60" fill="url(#bandg)"/>
<path d="M335.00,235.50 L338.10,235.30 L340.00,234.00 L341.60,231.50 L343.00,227.50 L344.20,221.90 L345.30,214.50 L346.30,206.20 L347.20,197.00 L348.10,188.70 L349.50,178.20 L350.70,176.50 L352.10,180.00 L353.80,190.40 L355.20,199.20 L356.40,203.50 L358.20,195.70 L359.60,187.80 L360.80,192.20 L362.00,187.80 L363.40,197.40 L364.80,213.10 L365.50,221.00 L366.20,227.10 L367.00,231.50 L367.80,234.10 L369.00,235.20 L370.40,235.50 Z" fill="url(#hg)" fill-opacity="0.95"/>
<path d="M335.00,235.50 L338.10,235.30 L340.00,234.00 L341.60,231.50 L343.00,227.50 L344.20,221.90 L345.30,214.50 L346.30,206.20 L347.20,197.00 L348.10,188.70 L349.50,178.20 L350.70,176.50 L352.10,180.00 L353.80,190.40 L355.20,199.20 L356.40,203.50 L358.20,195.70 L359.60,187.80 L360.80,192.20 L362.00,187.80 L363.40,197.40 L364.80,213.10 L365.50,221.00 L366.20,227.10 L367.00,231.50 L367.80,234.10 L369.00,235.20 L370.40,235.50 Z" fill="url(#st)"/>
<path d="M321.15,235.5 L335.00,235.50 L338.10,235.30 L340.00,234.00 L341.60,231.50 L343.00,227.50 L344.20,221.90 L345.30,214.50 L346.30,206.20 L347.20,197.00 L348.10,188.70 L349.50,178.20 L350.70,176.50 L352.10,180.00 L353.80,190.40 L355.20,199.20 L356.40,203.50 L358.20,195.70 L359.60,187.80 L360.80,192.20 L362.00,187.80 L363.40,197.40 L364.80,213.10 L365.50,221.00 L366.20,227.10 L367.00,231.50 L367.80,234.10 L369.00,235.20 L370.40,235.50 L375.15,235.5" fill="none" stroke="#505050" stroke-width="0.8" stroke-linejoin="round"/>
<text x="355.04" y="178.30" fill="#555" stroke="#555" stroke-width="0.08" textLength="20.86" lengthAdjust="spacingAndGlyphs"><tspan font-size="4.6">Undivided</tspan></text>
<text x="361.75" y="184.00" fill="#333" stroke="#333" stroke-width="0.08" textLength="6.47" lengthAdjust="spacingAndGlyphs"><tspan font-size="4.9">limit</tspan></text>
<text x="343.55" y="164.80" fill="#231f20" stroke="#231f20" stroke-width="0.08" textLength="4.06" lengthAdjust="spacingAndGlyphs"><tspan font-size="7.3">d</tspan></text>
<line x1="422.90" y1="161.30" x2="422.90" y2="238.20" stroke="#231f20" stroke-width="1.15"/>
<line x1="422.40" y1="237.70" x2="509.00" y2="237.70" stroke="#231f20" stroke-width="1.15"/>
<line x1="420.10" y1="163.81" x2="422.90" y2="163.81" stroke="#231f20" stroke-width="1.0"/>
<text x="407.06" y="166.29" fill="#231f20" stroke="#231f20" stroke-width="0.08" textLength="9.02" lengthAdjust="spacingAndGlyphs"><tspan font-size="7.0">1.5</tspan></text>
<line x1="420.10" y1="188.44" x2="422.90" y2="188.44" stroke="#231f20" stroke-width="1.0"/>
<text x="407.06" y="190.92" fill="#231f20" stroke="#231f20" stroke-width="0.08" textLength="9.00" lengthAdjust="spacingAndGlyphs"><tspan font-size="7.0">1.0</tspan></text>
<line x1="420.10" y1="213.07" x2="422.90" y2="213.07" stroke="#231f20" stroke-width="1.0"/>
<text x="407.30" y="215.55" fill="#231f20" stroke="#231f20" stroke-width="0.08" textLength="8.76" lengthAdjust="spacingAndGlyphs"><tspan font-size="7.0">0.5</tspan></text>
<line x1="420.10" y1="237.70" x2="422.90" y2="237.70" stroke="#231f20" stroke-width="1.0"/>
<text x="407.30" y="240.18" fill="#231f20" stroke="#231f20" stroke-width="0.08" textLength="8.74" lengthAdjust="spacingAndGlyphs"><tspan font-size="7.0">0.0</tspan></text>
<rect x="428.90" y="194.84" width="10.40" height="42.86" fill="#c8102e"/>
<line x1="434.10" y1="237.70" x2="434.10" y2="240.40" stroke="#231f20" stroke-width="1.0"/>
<line x1="434.10" y1="187.95" x2="434.10" y2="200.75" stroke="#231f20" stroke-width="0.75"/>
<line x1="432.20" y1="187.95" x2="436.00" y2="187.95" stroke="#231f20" stroke-width="0.75"/>
<line x1="432.20" y1="200.75" x2="436.00" y2="200.75" stroke="#231f20" stroke-width="0.75"/>
<circle cx="434.10" cy="184.99" r="1.1" fill="#111"/>
<circle cx="431.60" cy="193.37" r="1.1" fill="#111"/>
<circle cx="436.60" cy="194.35" r="1.1" fill="#111"/>
<circle cx="433.10" cy="197.31" r="1.1" fill="#111"/>
<circle cx="436.10" cy="199.28" r="1.1" fill="#111"/>
<text x="432.22" y="249.50" fill="#231f20" stroke="#231f20" stroke-width="0.08" textLength="3.78" lengthAdjust="spacingAndGlyphs"><tspan font-size="6.8">e</tspan></text>
<rect x="445.20" y="194.35" width="10.40" height="43.35" fill="#35a9e1"/>
<line x1="450.40" y1="237.70" x2="450.40" y2="240.40" stroke="#231f20" stroke-width="1.0"/>
<line x1="450.40" y1="187.21" x2="450.40" y2="201.25" stroke="#231f20" stroke-width="0.75"/>
<line x1="448.50" y1="187.21" x2="452.30" y2="187.21" stroke="#231f20" stroke-width="0.75"/>
<line x1="448.50" y1="201.25" x2="452.30" y2="201.25" stroke="#231f20" stroke-width="0.75"/>
<circle cx="450.40" cy="182.63" r="1.1" fill="#111"/>
<circle cx="447.40" cy="193.37" r="1.1" fill="#111"/>
<circle cx="452.40" cy="192.38" r="1.1" fill="#111"/>
<circle cx="449.40" cy="198.29" r="1.1" fill="#111"/>
<circle cx="451.90" cy="199.77" r="1.1" fill="#111"/>
<text x="448.36" y="249.50" fill="#231f20" stroke="#231f20" stroke-width="0.08" textLength="3.78" lengthAdjust="spacingAndGlyphs"><tspan font-size="6.8">a</tspan></text>
<rect x="462.10" y="208.64" width="10.40" height="29.06" fill="#3aaa35"/>
<line x1="467.30" y1="237.70" x2="467.30" y2="240.40" stroke="#231f20" stroke-width="1.0"/>
<line x1="467.30" y1="203.71" x2="467.30" y2="213.07" stroke="#231f20" stroke-width="0.75"/>
<line x1="465.40" y1="203.71" x2="469.20" y2="203.71" stroke="#231f20" stroke-width="0.75"/>
<line x1="465.40" y1="213.07" x2="469.20" y2="213.07" stroke="#231f20" stroke-width="0.75"/>
<circle cx="469.30" cy="201.74" r="1.1" fill="#111"/>
<circle cx="465.30" cy="205.19" r="1.1" fill="#111"/>
<circle cx="467.30" cy="209.13" r="1.1" fill="#111"/>
<circle cx="464.80" cy="210.11" r="1.1" fill="#111"/>
<circle cx="469.80" cy="210.61" r="1.1" fill="#111"/>
<text x="465.33" y="249.50" fill="#231f20" stroke="#231f20" stroke-width="0.08" textLength="3.78" lengthAdjust="spacingAndGlyphs"><tspan font-size="6.8">b</tspan></text>
<rect x="478.80" y="201.74" width="10.40" height="35.96" fill="#f7941d"/>
<line x1="484.00" y1="237.70" x2="484.00" y2="240.40" stroke="#231f20" stroke-width="1.0"/>
<line x1="484.00" y1="198.29" x2="484.00" y2="204.70" stroke="#231f20" stroke-width="0.75"/>
<line x1="482.10" y1="198.29" x2="485.90" y2="198.29" stroke="#231f20" stroke-width="0.75"/>
<line x1="482.10" y1="204.70" x2="485.90" y2="204.70" stroke="#231f20" stroke-width="0.75"/>
<circle cx="484.00" cy="196.81" r="1.1" fill="#111"/>
<circle cx="481.00" cy="201.25" r="1.1" fill="#111"/>
<circle cx="484.00" cy="201.74" r="1.1" fill="#111"/>
<circle cx="487.00" cy="201.74" r="1.1" fill="#111"/>
<circle cx="483.00" cy="202.73" r="1.1" fill="#111"/>
<text x="482.25" y="249.50" fill="#231f20" stroke="#231f20" stroke-width="0.08" textLength="3.40" lengthAdjust="spacingAndGlyphs"><tspan font-size="6.8">c</tspan></text>
<rect x="495.60" y="200.75" width="10.40" height="36.94" fill="#e5147f"/>
<line x1="500.80" y1="237.70" x2="500.80" y2="240.40" stroke="#231f20" stroke-width="1.0"/>
<line x1="500.80" y1="194.84" x2="500.80" y2="206.17" stroke="#231f20" stroke-width="0.75"/>
<line x1="498.90" y1="194.84" x2="502.70" y2="194.84" stroke="#231f20" stroke-width="0.75"/>
<line x1="498.90" y1="206.17" x2="502.70" y2="206.17" stroke="#231f20" stroke-width="0.75"/>
<circle cx="500.80" cy="191.89" r="1.1" fill="#111"/>
<circle cx="497.80" cy="199.77" r="1.1" fill="#111"/>
<circle cx="502.80" cy="200.75" r="1.1" fill="#111"/>
<circle cx="500.80" cy="203.22" r="1.1" fill="#111"/>
<circle cx="499.80" cy="205.68" r="1.1" fill="#111"/>
<text x="498.99" y="249.50" fill="#231f20" stroke="#231f20" stroke-width="0.08" textLength="3.78" lengthAdjust="spacingAndGlyphs"><tspan font-size="6.8">d</tspan></text>
<text x="-221.28" y="401.30" transform="rotate(-90)" fill="#231f20" stroke="#231f20" stroke-width="0.08" textLength="43.96" lengthAdjust="spacingAndGlyphs"><tspan font-size="9.0">Division index</tspan></text>
<line x1="432.50" y1="179.50" x2="449.50" y2="179.50" stroke="#231f20" stroke-width="0.8"/>
<text x="436.74" y="176.70" fill="#231f20" stroke="#231f20" stroke-width="0.08" textLength="7.31" lengthAdjust="spacingAndGlyphs"><tspan font-size="6.4">ns</tspan></text>
<line x1="449.50" y1="179.50" x2="467.00" y2="179.50" stroke="#231f20" stroke-width="0.8"/>
<path d="M457.07,175.50L457.07,177.50M456.21,176.00L457.94,177.00M457.94,176.00L456.21,177.00" stroke="#1a1a1a" stroke-width="0.75" stroke-linecap="round"/>
<path d="M459.93,175.50L459.93,177.50M459.06,176.00L460.79,177.00M460.79,176.00L459.06,177.00" stroke="#1a1a1a" stroke-width="0.75" stroke-linecap="round"/>
<line x1="467.70" y1="180.50" x2="500.40" y2="180.50" stroke="#231f20" stroke-width="0.8"/>
<path d="M484.60,175.90L484.60,177.90M483.73,176.40L485.47,177.40M485.47,176.40L483.73,177.40" stroke="#1a1a1a" stroke-width="0.75" stroke-linecap="round"/>
<line x1="485.10" y1="187.50" x2="500.40" y2="187.50" stroke="#231f20" stroke-width="0.8"/>
<text x="488.64" y="185.30" fill="#231f20" stroke="#231f20" stroke-width="0.08" textLength="7.31" lengthAdjust="spacingAndGlyphs"><tspan font-size="6.4">ns</tspan></text>
<line x1="467.70" y1="193.50" x2="484.10" y2="193.50" stroke="#231f20" stroke-width="0.8"/>
<path d="M474.77,188.30L474.77,190.30M473.91,188.80L475.64,189.80M475.64,188.80L473.91,189.80" stroke="#1a1a1a" stroke-width="0.75" stroke-linecap="round"/>
<path d="M477.62,188.30L477.62,190.30M476.76,188.80L478.49,189.80M478.49,188.80L476.76,189.80" stroke="#1a1a1a" stroke-width="0.75" stroke-linecap="round"/>
<line x1="44.90" y1="295.20" x2="44.90" y2="388.30" stroke="#231f20" stroke-width="1.15"/>
<line x1="44.40" y1="387.80" x2="155.50" y2="387.80" stroke="#231f20" stroke-width="1.15"/>
<line x1="42.10" y1="297.30" x2="44.90" y2="297.30" stroke="#231f20" stroke-width="1.0"/>
<text x="24.33" y="299.77" fill="#231f20" stroke="#231f20" stroke-width="0.08" textLength="15.24" lengthAdjust="spacingAndGlyphs"><tspan font-size="7.0">1200</tspan></text>
<line x1="42.10" y1="327.46" x2="44.90" y2="327.46" stroke="#231f20" stroke-width="1.0"/>
<text x="28.31" y="329.94" fill="#231f20" stroke="#231f20" stroke-width="0.08" textLength="11.26" lengthAdjust="spacingAndGlyphs"><tspan font-size="7.0">800</tspan></text>
<line x1="42.10" y1="357.63" x2="44.90" y2="357.63" stroke="#231f20" stroke-width="1.0"/>
<text x="28.45" y="360.11" fill="#231f20" stroke="#231f20" stroke-width="0.08" textLength="11.11" lengthAdjust="spacingAndGlyphs"><tspan font-size="7.0">400</tspan></text>
<line x1="42.10" y1="387.80" x2="44.90" y2="387.80" stroke="#231f20" stroke-width="1.0"/>
<text x="35.84" y="390.28" fill="#231f20" stroke="#231f20" stroke-width="0.08" textLength="3.72" lengthAdjust="spacingAndGlyphs"><tspan font-size="7.0">0</tspan></text>
<line x1="59.00" y1="387.80" x2="59.00" y2="390.90" stroke="#231f20" stroke-width="1.0"/>
<text x="57.14" y="399.78" fill="#231f20" stroke="#231f20" stroke-width="0.08" textLength="3.72" lengthAdjust="spacingAndGlyphs"><tspan font-size="7.0">0</tspan></text>
<line x1="79.76" y1="387.80" x2="79.76" y2="390.90" stroke="#231f20" stroke-width="1.0"/>
<text x="77.80" y="399.78" fill="#231f20" stroke="#231f20" stroke-width="0.08" textLength="3.91" lengthAdjust="spacingAndGlyphs"><tspan font-size="7.0">7</tspan></text>
<line x1="100.52" y1="387.80" x2="100.52" y2="390.90" stroke="#231f20" stroke-width="1.0"/>
<text x="96.52" y="399.78" fill="#231f20" stroke="#231f20" stroke-width="0.08" textLength="7.68" lengthAdjust="spacingAndGlyphs"><tspan font-size="7.0">14</tspan></text>
<line x1="121.29" y1="387.80" x2="121.29" y2="390.90" stroke="#231f20" stroke-width="1.0"/>
<text x="117.47" y="399.78" fill="#231f20" stroke="#231f20" stroke-width="0.08" textLength="7.63" lengthAdjust="spacingAndGlyphs"><tspan font-size="7.0">21</tspan></text>
<line x1="142.05" y1="387.80" x2="142.05" y2="390.90" stroke="#231f20" stroke-width="1.0"/>
<text x="138.23" y="399.78" fill="#231f20" stroke="#231f20" stroke-width="0.08" textLength="7.59" lengthAdjust="spacingAndGlyphs"><tspan font-size="7.0">28</tspan></text>
<text x="151.46" y="399.70" fill="#231f20" stroke="#231f20" stroke-width="0.08" textLength="33.74" lengthAdjust="spacingAndGlyphs"><tspan font-size="7.8">Time (days)</tspan></text>
<text x="-378.57" y="19.20" transform="rotate(-90)" fill="#231f20" stroke="#231f20" stroke-width="0.08" textLength="75.60" lengthAdjust="spacingAndGlyphs"><tspan font-size="8.4">Platelet counts ( × 10</tspan><tspan font-size="5.208" dy="-3.19">9</tspan><tspan font-size="8.4" dy="3.19">/L)</tspan></text>
<polyline points="59.00,315.77 79.76,370.08 100.52,367.81 121.29,362.53 142.05,356.50" fill="none" stroke="#c3cad6" stroke-width="0.9"/>
<rect x="57.90" y="314.67" width="2.20" height="2.20" fill="#aab4c4"/>
<line x1="79.76" y1="366.68" x2="79.76" y2="373.47" stroke="#c3cad6" stroke-width="0.7"/>
<line x1="78.26" y1="366.68" x2="81.26" y2="366.68" stroke="#c3cad6" stroke-width="0.7"/>
<line x1="78.26" y1="373.47" x2="81.26" y2="373.47" stroke="#c3cad6" stroke-width="0.7"/>
<rect x="78.66" y="368.98" width="2.20" height="2.20" fill="#aab4c4"/>
<line x1="100.52" y1="364.80" x2="100.52" y2="370.83" stroke="#c3cad6" stroke-width="0.7"/>
<line x1="99.02" y1="364.80" x2="102.02" y2="364.80" stroke="#c3cad6" stroke-width="0.7"/>
<line x1="99.02" y1="370.83" x2="102.02" y2="370.83" stroke="#c3cad6" stroke-width="0.7"/>
<rect x="99.42" y="366.71" width="2.20" height="2.20" fill="#aab4c4"/>
<line x1="121.29" y1="359.14" x2="121.29" y2="365.93" stroke="#c3cad6" stroke-width="0.7"/>
<line x1="119.79" y1="359.14" x2="122.79" y2="359.14" stroke="#c3cad6" stroke-width="0.7"/>
<line x1="119.79" y1="365.93" x2="122.79" y2="365.93" stroke="#c3cad6" stroke-width="0.7"/>
<rect x="120.19" y="361.43" width="2.20" height="2.20" fill="#aab4c4"/>
<line x1="142.05" y1="354.24" x2="142.05" y2="358.76" stroke="#c3cad6" stroke-width="0.7"/>
<line x1="140.55" y1="354.24" x2="143.55" y2="354.24" stroke="#c3cad6" stroke-width="0.7"/>
<line x1="140.55" y1="358.76" x2="143.55" y2="358.76" stroke="#c3cad6" stroke-width="0.7"/>
<rect x="140.95" y="355.40" width="2.20" height="2.20" fill="#aab4c4"/>
<polyline points="59.00,315.40 79.76,373.92 100.52,369.40 121.29,365.93 142.05,361.40" fill="none" stroke="#3aa9dc" stroke-width="0.9"/>
<line x1="59.00" y1="310.12" x2="59.00" y2="320.68" stroke="#3aa9dc" stroke-width="0.7"/>
<line x1="57.50" y1="310.12" x2="60.50" y2="310.12" stroke="#3aa9dc" stroke-width="0.7"/>
<line x1="57.50" y1="320.68" x2="60.50" y2="320.68" stroke="#3aa9dc" stroke-width="0.7"/>
<rect x="57.25" y="313.65" width="3.50" height="3.50" fill="#29a9e0"/>
<line x1="79.76" y1="369.77" x2="79.76" y2="378.07" stroke="#3aa9dc" stroke-width="0.7"/>
<line x1="78.26" y1="369.77" x2="81.26" y2="369.77" stroke="#3aa9dc" stroke-width="0.7"/>
<line x1="78.26" y1="378.07" x2="81.26" y2="378.07" stroke="#3aa9dc" stroke-width="0.7"/>
<rect x="78.01" y="372.17" width="3.50" height="3.50" fill="#29a9e0"/>
<line x1="100.52" y1="364.87" x2="100.52" y2="373.92" stroke="#3aa9dc" stroke-width="0.7"/>
<line x1="99.02" y1="364.87" x2="102.02" y2="364.87" stroke="#3aa9dc" stroke-width="0.7"/>
<line x1="99.02" y1="373.92" x2="102.02" y2="373.92" stroke="#3aa9dc" stroke-width="0.7"/>
<rect x="98.77" y="367.65" width="3.50" height="3.50" fill="#29a9e0"/>
<line x1="121.29" y1="362.53" x2="121.29" y2="369.32" stroke="#3aa9dc" stroke-width="0.7"/>
<line x1="119.79" y1="362.53" x2="122.79" y2="362.53" stroke="#3aa9dc" stroke-width="0.7"/>
<line x1="119.79" y1="369.32" x2="122.79" y2="369.32" stroke="#3aa9dc" stroke-width="0.7"/>
<rect x="119.54" y="364.18" width="3.50" height="3.50" fill="#29a9e0"/>
<line x1="142.05" y1="358.76" x2="142.05" y2="364.04" stroke="#3aa9dc" stroke-width="0.7"/>
<line x1="140.55" y1="358.76" x2="143.55" y2="358.76" stroke="#3aa9dc" stroke-width="0.7"/>
<line x1="140.55" y1="364.04" x2="143.55" y2="364.04" stroke="#3aa9dc" stroke-width="0.7"/>
<rect x="140.30" y="359.65" width="3.50" height="3.50" fill="#29a9e0"/>
<polyline points="59.00,315.25 79.76,367.81 100.52,364.04 121.29,354.69 142.05,349.41" fill="none" stroke="#30507e" stroke-width="0.9"/>
<rect x="57.80" y="314.05" width="2.40" height="2.40" fill="#1b4c86"/>
<line x1="79.76" y1="364.80" x2="79.76" y2="370.83" stroke="#30507e" stroke-width="0.7"/>
<line x1="78.26" y1="364.80" x2="81.26" y2="364.80" stroke="#30507e" stroke-width="0.7"/>
<line x1="78.26" y1="370.83" x2="81.26" y2="370.83" stroke="#30507e" stroke-width="0.7"/>
<rect x="78.56" y="366.61" width="2.40" height="2.40" fill="#1b4c86"/>
<line x1="100.52" y1="361.03" x2="100.52" y2="367.06" stroke="#30507e" stroke-width="0.7"/>
<line x1="99.02" y1="361.03" x2="102.02" y2="361.03" stroke="#30507e" stroke-width="0.7"/>
<line x1="99.02" y1="367.06" x2="102.02" y2="367.06" stroke="#30507e" stroke-width="0.7"/>
<rect x="99.32" y="362.84" width="2.40" height="2.40" fill="#1b4c86"/>
<line x1="121.29" y1="349.41" x2="121.29" y2="359.97" stroke="#30507e" stroke-width="0.7"/>
<line x1="119.79" y1="349.41" x2="122.79" y2="349.41" stroke="#30507e" stroke-width="0.7"/>
<line x1="119.79" y1="359.97" x2="122.79" y2="359.97" stroke="#30507e" stroke-width="0.7"/>
<rect x="120.09" y="353.49" width="2.40" height="2.40" fill="#1b4c86"/>
<line x1="142.05" y1="346.39" x2="142.05" y2="352.43" stroke="#30507e" stroke-width="0.7"/>
<line x1="140.55" y1="346.39" x2="143.55" y2="346.39" stroke="#30507e" stroke-width="0.7"/>
<line x1="140.55" y1="352.43" x2="143.55" y2="352.43" stroke="#30507e" stroke-width="0.7"/>
<rect x="140.85" y="348.21" width="2.40" height="2.40" fill="#1b4c86"/>
<polygon points="142.00,336.70 142.64,338.42 144.47,338.50 143.04,339.64 143.53,341.40 142.00,340.39 140.47,341.40 140.96,339.64 139.53,338.50 141.36,338.42" fill="#000"/>
<line x1="115.50" y1="304.80" x2="126.40" y2="304.80" stroke="#5bb8e4" stroke-width="0.9"/>
<rect x="119.30" y="303.10" width="3.40" height="3.40" fill="#29a9e0"/>
<line x1="115.50" y1="316.20" x2="126.40" y2="316.20" stroke="#d0d5de" stroke-width="0.9"/>
<rect x="120.00" y="315.20" width="2.00" height="2.00" fill="#b0b8c6"/>
<line x1="115.50" y1="327.20" x2="126.40" y2="327.20" stroke="#30507e" stroke-width="0.9"/>
<rect x="119.90" y="326.10" width="2.20" height="2.20" fill="#1a2f55"/>
<text x="129.92" y="306.70" fill="#231f20" stroke="#231f20" stroke-width="0.08" textLength="26.93" lengthAdjust="spacingAndGlyphs"><tspan font-size="7.2">a Control</tspan></text>
<text x="129.66" y="318.00" fill="#231f20" stroke="#231f20" stroke-width="0.08" textLength="3.83" lengthAdjust="spacingAndGlyphs"><tspan font-size="7.2">b</tspan></text>
<text x="135.61" y="318.00" fill="#231f20" stroke="#231f20" stroke-width="0.08" textLength="9.12" lengthAdjust="spacingAndGlyphs"><tspan font-size="7.2" font-style="italic">Pf4</tspan></text>
<text x="144.78" y="316.00" fill="#231f20" stroke="#231f20" stroke-width="0.08" textLength="9.43" lengthAdjust="spacingAndGlyphs"><tspan font-size="4.2">Cre+</tspan></text>
<text x="156.77" y="318.00" fill="#231f20" stroke="#231f20" stroke-width="0.08" textLength="18.03" lengthAdjust="spacingAndGlyphs"><tspan font-size="7.2" font-style="italic">Tgfb1</tspan></text>
<text x="174.64" y="316.00" fill="#231f20" stroke="#231f20" stroke-width="0.08" textLength="5.55" lengthAdjust="spacingAndGlyphs"><tspan font-size="4.2">fl/fl</tspan></text>
<text x="182.97" y="318.00" fill="#231f20" stroke="#231f20" stroke-width="0.08" textLength="59.97" lengthAdjust="spacingAndGlyphs"><tspan font-size="7.2">platelets transfusion</tspan></text>
<text x="129.77" y="328.50" fill="#231f20" stroke="#231f20" stroke-width="0.08" textLength="3.83" lengthAdjust="spacingAndGlyphs"><tspan font-size="7.2">c</tspan></text>
<text x="135.01" y="328.50" fill="#231f20" stroke="#231f20" stroke-width="0.08" textLength="9.43" lengthAdjust="spacingAndGlyphs"><tspan font-size="7.2" font-style="italic">Pf4</tspan></text>
<text x="144.39" y="326.50" fill="#231f20" stroke="#231f20" stroke-width="0.08" textLength="8.90" lengthAdjust="spacingAndGlyphs"><tspan font-size="4.2">Cre−</tspan></text>
<text x="155.15" y="328.50" fill="#231f20" stroke="#231f20" stroke-width="0.08" textLength="18.46" lengthAdjust="spacingAndGlyphs"><tspan font-size="7.2" font-style="italic">Tgfb1</tspan></text>
<text x="173.53" y="326.50" fill="#231f20" stroke="#231f20" stroke-width="0.08" textLength="6.09" lengthAdjust="spacingAndGlyphs"><tspan font-size="4.2">fl/fl</tspan></text>
<text x="181.27" y="328.50" fill="#231f20" stroke="#231f20" stroke-width="0.08" textLength="59.36" lengthAdjust="spacingAndGlyphs"><tspan font-size="7.2">platelets transfusion</tspan></text>
<text x="313.52" y="279.50" fill="#231f20" stroke="#231f20" stroke-width="0.08" textLength="23.94" lengthAdjust="spacingAndGlyphs"><tspan font-size="9.0">Day28</tspan></text>
<line x1="292.70" y1="295.30" x2="292.70" y2="392.80" stroke="#231f20" stroke-width="1.15"/>
<line x1="292.20" y1="392.30" x2="358.10" y2="392.30" stroke="#231f20" stroke-width="1.15"/>
<line x1="289.90" y1="298.82" x2="292.70" y2="298.82" stroke="#231f20" stroke-width="1.0"/>
<text x="278.56" y="301.30" fill="#231f20" stroke="#231f20" stroke-width="0.08" textLength="11.31" lengthAdjust="spacingAndGlyphs"><tspan font-size="7.0">600</tspan></text>
<line x1="289.90" y1="329.98" x2="292.70" y2="329.98" stroke="#231f20" stroke-width="1.0"/>
<text x="278.75" y="332.46" fill="#231f20" stroke="#231f20" stroke-width="0.08" textLength="11.11" lengthAdjust="spacingAndGlyphs"><tspan font-size="7.0">400</tspan></text>
<line x1="289.90" y1="361.14" x2="292.70" y2="361.14" stroke="#231f20" stroke-width="1.0"/>
<text x="278.56" y="363.62" fill="#231f20" stroke="#231f20" stroke-width="0.08" textLength="11.31" lengthAdjust="spacingAndGlyphs"><tspan font-size="7.0">200</tspan></text>
<line x1="289.90" y1="392.30" x2="292.70" y2="392.30" stroke="#231f20" stroke-width="1.0"/>
<text x="286.14" y="394.78" fill="#231f20" stroke="#231f20" stroke-width="0.08" textLength="3.72" lengthAdjust="spacingAndGlyphs"><tspan font-size="7.0">0</tspan></text>
<rect x="299.45" y="338.55" width="12.30" height="53.75" fill="#29a9e0"/>
<line x1="305.60" y1="392.30" x2="305.60" y2="395.00" stroke="#231f20" stroke-width="1.0"/>
<line x1="305.60" y1="331.85" x2="305.60" y2="345.25" stroke="#231f20" stroke-width="0.75"/>
<line x1="303.70" y1="331.85" x2="307.50" y2="331.85" stroke="#231f20" stroke-width="0.75"/>
<line x1="303.70" y1="345.25" x2="307.50" y2="345.25" stroke="#231f20" stroke-width="0.75"/>
<circle cx="302.60" cy="331.23" r="1.1" fill="#111"/>
<circle cx="307.90" cy="329.98" r="1.1" fill="#111"/>
<circle cx="303.30" cy="335.43" r="1.1" fill="#111"/>
<circle cx="305.60" cy="340.89" r="1.1" fill="#111"/>
<circle cx="307.90" cy="342.13" r="1.1" fill="#111"/>
<circle cx="304.60" cy="347.43" r="1.1" fill="#111"/>
<text x="303.56" y="404.70" fill="#231f20" stroke="#231f20" stroke-width="0.08" textLength="3.78" lengthAdjust="spacingAndGlyphs"><tspan font-size="6.8">a</tspan></text>
<rect x="319.15" y="329.67" width="12.30" height="62.63" fill="#c6c6c8"/>
<line x1="325.30" y1="392.30" x2="325.30" y2="395.00" stroke="#231f20" stroke-width="1.0"/>
<line x1="325.30" y1="324.99" x2="325.30" y2="334.34" stroke="#231f20" stroke-width="0.75"/>
<line x1="323.40" y1="324.99" x2="327.20" y2="324.99" stroke="#231f20" stroke-width="0.75"/>
<line x1="323.40" y1="334.34" x2="327.20" y2="334.34" stroke="#231f20" stroke-width="0.75"/>
<circle cx="323.80" cy="322.81" r="1.1" fill="#111"/>
<circle cx="327.80" cy="324.99" r="1.1" fill="#111"/>
<circle cx="322.30" cy="329.67" r="1.1" fill="#111"/>
<circle cx="325.30" cy="330.60" r="1.1" fill="#111"/>
<circle cx="328.30" cy="330.60" r="1.1" fill="#111"/>
<text x="323.33" y="404.70" fill="#231f20" stroke="#231f20" stroke-width="0.08" textLength="3.78" lengthAdjust="spacingAndGlyphs"><tspan font-size="6.8">b</tspan></text>
<rect x="338.65" y="313.47" width="12.30" height="78.83" fill="#1b4c86"/>
<line x1="344.80" y1="392.30" x2="344.80" y2="395.00" stroke="#231f20" stroke-width="1.0"/>
<line x1="344.80" y1="306.30" x2="344.80" y2="320.63" stroke="#231f20" stroke-width="0.75"/>
<line x1="342.90" y1="306.30" x2="346.70" y2="306.30" stroke="#231f20" stroke-width="0.75"/>
<line x1="342.90" y1="320.63" x2="346.70" y2="320.63" stroke="#231f20" stroke-width="0.75"/>
<circle cx="342.50" cy="304.74" r="1.1" fill="#111"/>
<circle cx="347.10" cy="308.17" r="1.1" fill="#111"/>
<circle cx="343.80" cy="315.65" r="1.1" fill="#111"/>
<circle cx="347.10" cy="317.20" r="1.1" fill="#111"/>
<text x="343.05" y="404.70" fill="#231f20" stroke="#231f20" stroke-width="0.08" textLength="3.40" lengthAdjust="spacingAndGlyphs"><tspan font-size="6.8">c</tspan></text>
<text x="-381.36" y="269.20" transform="rotate(-90)" fill="#231f20" stroke="#231f20" stroke-width="0.08" textLength="75.29" lengthAdjust="spacingAndGlyphs"><tspan font-size="8.4">Platelet counts ( × 10</tspan><tspan font-size="5.208" dy="-3.19">9</tspan><tspan font-size="8.4" dy="3.19">/L)</tspan></text>
<line x1="304.10" y1="290.50" x2="345.00" y2="290.50" stroke="#231f20" stroke-width="0.8"/>
<path d="M320.95,286.30L320.95,288.30M320.08,286.80L321.82,287.80M321.82,286.80L320.08,287.80" stroke="#1a1a1a" stroke-width="0.75" stroke-linecap="round"/>
<path d="M323.80,286.30L323.80,288.30M322.93,286.80L324.67,287.80M324.67,286.80L322.93,287.80" stroke="#1a1a1a" stroke-width="0.75" stroke-linecap="round"/>
<path d="M326.65,286.30L326.65,288.30M325.78,286.80L327.52,287.80M327.52,286.80L325.78,287.80" stroke="#1a1a1a" stroke-width="0.75" stroke-linecap="round"/>
<line x1="325.40" y1="299.50" x2="345.00" y2="299.50" stroke="#231f20" stroke-width="0.8"/>
<path d="M333.77,295.30L333.77,297.30M332.91,295.80L334.64,296.80M334.64,295.80L332.91,296.80" stroke="#1a1a1a" stroke-width="0.75" stroke-linecap="round"/>
<path d="M336.62,295.30L336.62,297.30M335.76,295.80L337.49,296.80M337.49,295.80L335.76,296.80" stroke="#1a1a1a" stroke-width="0.75" stroke-linecap="round"/>
<line x1="305.10" y1="311.50" x2="326.40" y2="311.50" stroke="#231f20" stroke-width="0.8"/>
<path d="M316.20,306.80L316.20,308.80M315.33,307.30L317.07,308.30M317.07,307.30L315.33,308.30" stroke="#1a1a1a" stroke-width="0.75" stroke-linecap="round"/>
<line x1="423.20" y1="287.30" x2="423.20" y2="391.80" stroke="#231f20" stroke-width="1.15"/>
<line x1="422.70" y1="391.30" x2="494.60" y2="391.30" stroke="#231f20" stroke-width="1.15"/>
<line x1="420.40" y1="289.50" x2="423.20" y2="289.50" stroke="#231f20" stroke-width="1.0"/>
<text x="409.58" y="291.98" fill="#231f20" stroke="#231f20" stroke-width="0.08" textLength="7.50" lengthAdjust="spacingAndGlyphs"><tspan font-size="7.0">55</tspan></text>
<line x1="420.40" y1="314.95" x2="423.20" y2="314.95" stroke="#231f20" stroke-width="1.0"/>
<text x="409.58" y="317.43" fill="#231f20" stroke="#231f20" stroke-width="0.08" textLength="7.48" lengthAdjust="spacingAndGlyphs"><tspan font-size="7.0">50</tspan></text>
<line x1="420.40" y1="340.40" x2="423.20" y2="340.40" stroke="#231f20" stroke-width="1.0"/>
<text x="409.70" y="342.88" fill="#231f20" stroke="#231f20" stroke-width="0.08" textLength="7.38" lengthAdjust="spacingAndGlyphs"><tspan font-size="7.0">45</tspan></text>
<line x1="420.40" y1="365.85" x2="423.20" y2="365.85" stroke="#231f20" stroke-width="1.0"/>
<text x="409.70" y="368.33" fill="#231f20" stroke="#231f20" stroke-width="0.08" textLength="7.36" lengthAdjust="spacingAndGlyphs"><tspan font-size="7.0">40</tspan></text>
<line x1="420.40" y1="391.30" x2="423.20" y2="391.30" stroke="#231f20" stroke-width="1.0"/>
<text x="409.59" y="393.78" fill="#231f20" stroke="#231f20" stroke-width="0.08" textLength="7.49" lengthAdjust="spacingAndGlyphs"><tspan font-size="7.0">35</tspan></text>
<rect x="430.70" y="361.78" width="12.40" height="29.52" fill="#29a9e0"/>
<line x1="436.90" y1="391.30" x2="436.90" y2="394.00" stroke="#231f20" stroke-width="1.0"/>
<line x1="436.90" y1="346.51" x2="436.90" y2="377.05" stroke="#231f20" stroke-width="0.75"/>
<line x1="435.00" y1="346.51" x2="438.80" y2="346.51" stroke="#231f20" stroke-width="0.75"/>
<line x1="435.00" y1="377.05" x2="438.80" y2="377.05" stroke="#231f20" stroke-width="0.75"/>
<circle cx="437.00" cy="341.10" r="1.3" fill="#111"/>
<circle cx="437.00" cy="351.40" r="1.2" fill="#111"/>
<circle cx="432.90" cy="366.90" r="1.2" fill="#111"/>
<circle cx="440.50" cy="367.90" r="1.2" fill="#111"/>
<circle cx="437.00" cy="379.10" r="1.2" fill="#111"/>
<text x="434.86" y="404.70" fill="#231f20" stroke="#231f20" stroke-width="0.08" textLength="3.78" lengthAdjust="spacingAndGlyphs"><tspan font-size="6.8">a</tspan></text>
<rect x="452.10" y="352.11" width="12.40" height="39.19" fill="#c6c6c8"/>
<line x1="458.30" y1="391.30" x2="458.30" y2="394.00" stroke="#231f20" stroke-width="1.0"/>
<line x1="458.30" y1="333.30" x2="458.30" y2="369.40" stroke="#231f20" stroke-width="0.75"/>
<line x1="456.40" y1="333.30" x2="460.20" y2="333.30" stroke="#231f20" stroke-width="0.75"/>
<line x1="456.40" y1="369.40" x2="460.20" y2="369.40" stroke="#231f20" stroke-width="0.75"/>
<circle cx="454.50" cy="332.20" r="1.1" fill="#111"/>
<circle cx="461.80" cy="334.90" r="1.1" fill="#111"/>
<circle cx="458.50" cy="359.10" r="1.2" fill="#111"/>
<circle cx="458.50" cy="364.20" r="1.2" fill="#111"/>
<circle cx="458.50" cy="371.40" r="1.1" fill="#111"/>
<text x="456.33" y="404.70" fill="#231f20" stroke="#231f20" stroke-width="0.08" textLength="3.78" lengthAdjust="spacingAndGlyphs"><tspan font-size="6.8">b</tspan></text>
<rect x="473.50" y="325.64" width="12.40" height="65.66" fill="#1b4c86"/>
<line x1="479.70" y1="391.30" x2="479.70" y2="394.00" stroke="#231f20" stroke-width="1.0"/>
<line x1="479.70" y1="306.90" x2="479.70" y2="343.50" stroke="#231f20" stroke-width="0.75"/>
<line x1="477.80" y1="306.90" x2="481.60" y2="306.90" stroke="#231f20" stroke-width="0.75"/>
<line x1="477.80" y1="343.50" x2="481.60" y2="343.50" stroke="#231f20" stroke-width="0.75"/>
<circle cx="475.80" cy="313.20" r="1.2" fill="#111"/>
<circle cx="483.20" cy="313.20" r="1.2" fill="#111"/>
<circle cx="479.90" cy="308.80" r="1.0" fill="#111"/>
<circle cx="479.90" cy="337.80" r="1.1" fill="#111"/>
<circle cx="479.90" cy="350.40" r="1.1" fill="#111"/>
<text x="477.95" y="404.70" fill="#231f20" stroke="#231f20" stroke-width="0.08" textLength="3.40" lengthAdjust="spacingAndGlyphs"><tspan font-size="6.8">c</tspan></text>
<text x="-375.85" y="402.60" transform="rotate(-90)" fill="#231f20" stroke="#231f20" stroke-width="0.08" textLength="74.96" lengthAdjust="spacingAndGlyphs"><tspan font-size="8.8">Percentage of MDSC (%)</tspan></text>
<line x1="435.70" y1="292.50" x2="479.70" y2="292.50" stroke="#231f20" stroke-width="0.8"/>
<path d="M449.47,288.10L449.47,290.10M448.61,288.60L450.34,289.60M450.34,288.60L448.61,289.60" stroke="#1a1a1a" stroke-width="0.75" stroke-linecap="round"/>
<path d="M452.32,288.10L452.32,290.10M451.46,288.60L453.19,289.60M453.19,288.60L451.46,289.60" stroke="#1a1a1a" stroke-width="0.75" stroke-linecap="round"/>
<line x1="457.70" y1="301.50" x2="479.70" y2="301.50" stroke="#231f20" stroke-width="0.8"/>
<path d="M467.90,297.60L467.90,299.60M467.03,298.10L468.77,299.10M468.77,298.10L467.03,299.10" stroke="#1a1a1a" stroke-width="0.75" stroke-linecap="round"/>
<line x1="435.70" y1="327.50" x2="458.70" y2="327.50" stroke="#231f20" stroke-width="0.8"/>
<text x="443.14" y="324.30" fill="#231f20" stroke="#231f20" stroke-width="0.08" textLength="7.31" lengthAdjust="spacingAndGlyphs"><tspan font-size="6.4">ns</tspan></text>
<rect x="0.5" y="0.5" width="519" height="412" fill="none" stroke="#585858" stroke-width="1"/>
</svg></div></body></html>
